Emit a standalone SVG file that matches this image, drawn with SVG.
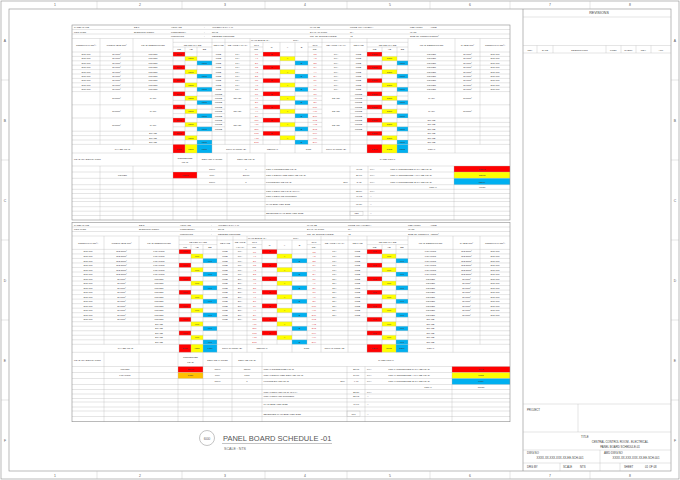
<svg xmlns="http://www.w3.org/2000/svg" width="680" height="480" viewBox="0 0 680 480">
<style>
text{font-family:"Liberation Sans",Arial,sans-serif;font-size:2.4px;fill:#3a3a3a}
.m{text-anchor:middle}
.e{text-anchor:end}
.k{fill:#e05050}
.g{stroke:#b4b4b4;stroke-width:0.35;fill:none}
.f{stroke:#8c8c8c;stroke-width:0.6;fill:none}
.R{fill:#ff0000}.Y{fill:#ffff00}.B{fill:#00b0f0}.O{fill:#ffc000}
.bd{font-size:3.4px;fill:#555}
</style>
<defs>
<g id="a"><text class="m" y="3.05"><tspan x="86">20φ mm</tspan><tspan x="116.5">3x4mm²</tspan><tspan x="153">POWER</tspan><tspan x="218.5">MCB</tspan><tspan x="237.5">16A</tspan><tspan x="336">16A</tspan><tspan x="358.5">MCB</tspan><tspan x="431.5">POWER</tspan><tspan x="467.5">3x4mm²</tspan><tspan x="495">20φ mm</tspan></text></g>
<g id="xR"><rect class="R" x="173" width="12" height="4.4"/><rect class="R" x="263" width="17" height="4.4"/><rect class="R" x="367" width="15" height="4.4"/><text class="m" y="3.05"><tspan x="179">1500</tspan><tspan x="271.5">R</tspan><tspan x="374.5">1500</tspan></text></g>
<g id="xY"><rect class="Y" x="185" width="12" height="4.4"/><rect class="Y" x="280" width="15" height="4.4"/><rect class="Y" x="382" width="15" height="4.4"/><text class="m" y="3.05"><tspan x="191">1500</tspan><tspan x="287.5">Y</tspan><tspan x="389.5">1500</tspan></text></g>
<g id="xB"><rect class="B" x="197" width="15" height="4.4"/><rect class="B" x="295" width="13" height="4.4"/><rect class="B" x="397" width="11" height="4.4"/><text class="m" y="3.05"><tspan x="204.5">1500</tspan><tspan x="301.5">B</tspan><tspan x="402.5">1500</tspan></text></g>
<g id="gL"><text class="m"><tspan x="116.5" y="7.7">5x6mm²</tspan><tspan x="153" y="7.7">RACK</tspan><tspan x="237.5" y="7.7">32A/3P</tspan><tspan x="218.5" y="3.05">MCCB</tspan><tspan x="218.5" y="7.45">MCCB</tspan><tspan x="218.5" y="11.85">MCCB</tspan></text></g>
<g id="gR"><text class="m"><tspan x="336" y="7.7">32A/3P</tspan><tspan x="358.5" y="3.05">MCCB</tspan><tspan x="358.5" y="7.45">MCCB</tspan><tspan x="358.5" y="11.85">MCCB</tspan><tspan x="431.5" y="7.7">RACK</tspan><tspan x="467.5" y="7.7">5x6mm²</tspan></text></g>
<g id="gS"><text class="m"><tspan x="336" y="7.7">32A/3P</tspan><tspan x="358.5" y="3.05">MCCB</tspan><tspan x="358.5" y="7.45">MCCB</tspan><tspan x="358.5" y="11.85">MCCB</tspan><tspan x="431.5" y="3.05">SPARE</tspan><tspan x="431.5" y="7.45">SPARE</tspan><tspan x="431.5" y="11.85">SPARE</tspan></text></g>
<g id="cd"><text class="m" y="3.1"><tspan x="88">20φ mm</tspan><tspan x="121.5">3x2.5mm²</tspan><tspan x="159">LIGHTING</tspan><tspan x="225">MCB</tspan><tspan x="240">10A</tspan><tspan x="334.5">10A</tspan><tspan x="357.5">MCB</tspan><tspan x="430.5">LIGHTING</tspan><tspan x="466.5">3x2.5mm²</tspan><tspan x="495">20φ mm</tspan></text></g>
<g id="p"><text class="m" y="3.1"><tspan x="88">20φ mm</tspan><tspan x="121.5">3x4mm²</tspan><tspan x="159">POWER</tspan><tspan x="225">MCB</tspan><tspan x="240">20A</tspan></text></g>
<g id="q"><text class="m" y="3.1"><tspan x="334.5">20A</tspan><tspan x="357.5">MCB</tspan><tspan x="430.5">POWER</tspan><tspan x="466.5">3x4mm²</tspan><tspan x="495">20φ mm</tspan></text></g>
<g id="yR"><rect class="R" x="179" width="12" height="4.52"/><rect class="R" x="262" width="15" height="4.52"/><rect class="R" x="367" width="15" height="4.52"/><text class="m" y="3.1"><tspan x="185">900</tspan><tspan x="269.5">R</tspan><tspan x="374.5">900</tspan></text></g>
<g id="yY"><rect class="Y" x="191" width="12" height="4.52"/><rect class="Y" x="277" width="15" height="4.52"/><rect class="Y" x="382" width="14" height="4.52"/><text class="m" y="3.1"><tspan x="197">900</tspan><tspan x="284.5">Y</tspan><tspan x="389">900</tspan></text></g>
<g id="yB"><rect class="B" x="203" width="14" height="4.52"/><rect class="B" x="292" width="15" height="4.52"/><rect class="B" x="396" width="12" height="4.52"/><text class="m" y="3.1"><tspan x="210">900</tspan><tspan x="299.5">B</tspan><tspan x="402">900</tspan></text></g>
</defs>
<rect width="680" height="480" fill="#fff"/>
<g id="border">
<rect class="f" x="1" y="1" width="678" height="478"/>
<rect class="f" x="9" y="9" width="662" height="462"/>
<path class="g" d="M97 1V9M182 1V9M265 1V9M347 1V9M430 1V9M510 1V9M590 1V9M97 471V479M182 471V479M265 471V479M347 471V479M430 471V479M510 471V479M590 471V479M1 80H9M1 160H9M1 240H9M1 320H9M1 400H9M671 80H679M671 160H679M671 240H679M671 320H679M671 400H679"/>
<text class="m bd"><tspan x="55" y="6.3">1</tspan><tspan x="140">2</tspan><tspan x="225">3</tspan><tspan x="305">4</tspan><tspan x="390">5</tspan><tspan x="470">6</tspan><tspan x="550">7</tspan><tspan x="630">8</tspan><tspan x="55" y="477">1</tspan><tspan x="140">2</tspan><tspan x="225">3</tspan><tspan x="305">4</tspan><tspan x="390">5</tspan><tspan x="470">6</tspan><tspan x="550">7</tspan><tspan x="630">8</tspan></text>
<text class="m bd"><tspan x="5" y="42">A</tspan><tspan x="5" y="122">B</tspan><tspan x="5" y="202">C</tspan><tspan x="5" y="282">D</tspan><tspan x="5" y="362">E</tspan><tspan x="5" y="442">F</tspan><tspan x="675" y="42">A</tspan><tspan x="675" y="122">B</tspan><tspan x="675" y="202">C</tspan><tspan x="675" y="282">D</tspan><tspan x="675" y="362">E</tspan><tspan x="675" y="442">F</tspan></text>
</g>
<g id="db1">
<use href="#a" y="52"/><use href="#xR" y="52"/>
<use href="#a" y="56.4"/><use href="#xY" y="56.4"/>
<use href="#a" y="60.8"/><use href="#xB" y="60.8"/>
<use href="#a" y="65.2"/><use href="#xR" y="65.2"/>
<use href="#a" y="69.6"/><use href="#xY" y="69.6"/>
<use href="#a" y="74"/><use href="#xB" y="74"/>
<use href="#a" y="78.4"/><use href="#xR" y="78.4"/>
<use href="#a" y="82.8"/><use href="#xY" y="82.8"/>
<use href="#a" y="87.2"/><use href="#xB" y="87.2"/>
<use href="#gL" y="91.6"/><use href="#gR" y="91.6"/><use href="#xR" y="91.6"/><use href="#xY" y="96"/><use href="#xB" y="100.4"/>
<use href="#gL" y="104.8"/><use href="#gR" y="104.8"/><use href="#xR" y="104.8"/><use href="#xY" y="109.2"/><use href="#xB" y="113.6"/>
<use href="#gL" y="118"/><use href="#gS" y="118"/><use href="#xR" y="118"/><use href="#xY" y="122.4"/><use href="#xB" y="126.8"/>
<use href="#xR" y="131.2"/><use href="#xY" y="135.6"/><use href="#xB" y="140"/>
<text class="m"><tspan x="153" y="134.25">SPARE</tspan><tspan x="153" y="138.65">SPARE</tspan><tspan x="153" y="143.05">SPARE</tspan><tspan x="431.5" y="134.25">SPARE</tspan><tspan x="431.5" y="138.65">SPARE</tspan><tspan x="431.5" y="143.05">SPARE</tspan></text>
<text class="m k" x="256.5" y="55.05">R1<tspan x="256.5" dy="4.4">Y1</tspan><tspan x="256.5" dy="4.4">B1</tspan><tspan x="256.5" dy="4.4">R3</tspan><tspan x="256.5" dy="4.4">Y3</tspan><tspan x="256.5" dy="4.4">B3</tspan><tspan x="256.5" dy="4.4">R5</tspan><tspan x="256.5" dy="4.4">Y5</tspan><tspan x="256.5" dy="4.4">B5</tspan><tspan x="256.5" dy="4.4">R7</tspan><tspan x="256.5" dy="4.4">Y7</tspan><tspan x="256.5" dy="4.4">B7</tspan><tspan x="256.5" dy="4.4">R9</tspan><tspan x="256.5" dy="4.4">Y9</tspan><tspan x="256.5" dy="4.4">B9</tspan><tspan x="256.5" dy="4.4">R11</tspan><tspan x="256.5" dy="4.4">Y11</tspan><tspan x="256.5" dy="4.4">B11</tspan><tspan x="256.5" dy="4.4">R13</tspan><tspan x="256.5" dy="4.4">Y13</tspan><tspan x="256.5" dy="4.4">B13</tspan></text>
<text class="m k" x="315" y="55.05">R2<tspan x="315" dy="4.4">Y2</tspan><tspan x="315" dy="4.4">B2</tspan><tspan x="315" dy="4.4">R4</tspan><tspan x="315" dy="4.4">Y4</tspan><tspan x="315" dy="4.4">B4</tspan><tspan x="315" dy="4.4">R6</tspan><tspan x="315" dy="4.4">Y6</tspan><tspan x="315" dy="4.4">B6</tspan><tspan x="315" dy="4.4">R8</tspan><tspan x="315" dy="4.4">Y8</tspan><tspan x="315" dy="4.4">B8</tspan><tspan x="315" dy="4.4">R10</tspan><tspan x="315" dy="4.4">Y10</tspan><tspan x="315" dy="4.4">B10</tspan><tspan x="315" dy="4.4">R12</tspan><tspan x="315" dy="4.4">Y12</tspan><tspan x="315" dy="4.4">B12</tspan><tspan x="315" dy="4.4">R14</tspan><tspan x="315" dy="4.4">Y14</tspan><tspan x="315" dy="4.4">B14</tspan></text>
<rect class="R" x="173" y="144.4" width="12" height="8.6"/><rect class="Y" x="185" y="144.4" width="12" height="8.6"/><rect class="B" x="197" y="144.4" width="15" height="8.6"/>
<rect class="R" x="367" y="144.4" width="15" height="8.6"/><rect class="Y" x="382" y="144.4" width="15" height="8.6"/><rect class="B" x="397" y="144.4" width="11" height="8.6"/>
<rect class="R" x="173" y="172" width="24" height="6.3"/>
<rect class="R" x="454" y="166" width="56" height="6"/><rect class="Y" x="454" y="172" width="56" height="6.3"/><rect class="B" x="454" y="178.3" width="56" height="6.4"/>
<path class="g" d="M72 29.5H510M72 34H510M72 38.5H510M72 52H510M72 56.4H510M72 60.8H510M72 65.2H510M72 69.6H510M72 74H510M72 78.4H510M72 82.8H510M72 87.2H510M72 91.6H510M72 104.8H510M72 118H510M72 131.2H510M72 135.6H510M72 140H510M72 144.4H510M72 153H510M173 42.3H408M173 47H212M250 47H263M308 47H322M367 47H408M173 96H225M250 96H322M350 96H408M173 100.4H225M250 100.4H322M350 100.4H408M173 109.2H225M250 109.2H322M350 109.2H408M173 113.6H225M250 113.6H322M350 113.6H408M173 122.4H225M250 122.4H322M350 122.4H510M173 126.8H225M250 126.8H322M350 126.8H510
M100 38.5V144.4M133 38.5V144.4M173 38.5V153M212 38.5V153M225 38.5V144.4M250 38.5V153M263 42.3V144.4M308 42.3V144.4M322 38.5V153M350 38.5V153M367 38.5V153M408 38.5V153M455 38.5V153M480 38.5V144.4M185 47V153M197 47V153M382 47V153M397 47V153M280 42.3V144.4M295 42.3V153
M72 166H510M72 172H510M72 178.3H510M72 184.7H510M72 189.3H510M72 193.5H510M72 198.3H510M72 201.5H510M72 206.7H510M72 211.2H510M72 215.5H510M100 166V220M133 166V220M173 153V220M197 153V220M227 153V220M265 153V220M350 166V220M368 166V220M454 166V220"/>
<rect class="g" x="350" y="211.2" width="13" height="4.3"/>
<rect class="f" x="72" y="25" width="438" height="195"/>
<text><tspan x="74" y="28.3">PANEL NAME</tspan><tspan x="134">DB-1</tspan><tspan x="171">VOLTAGE</tspan><tspan x="204">:</tspan><tspan x="212">400/230V,3 PH,4 W</tspan><tspan x="310">MAIN CB</tspan><tspan x="350">MCCB 400A/4P/25KA</tspan><tspan x="410">FED FROM</tspan><tspan x="430">: MDB</tspan><tspan x="74" y="32.8">LOCATION</tspan><tspan x="134">ELECTRIC ROOM</tspan><tspan x="171">FREQUENCY</tspan><tspan x="204">:</tspan><tspan x="212">50HZ</tspan><tspan x="310">E.L.C.I RATING:</tspan><tspan x="350">NA</tspan><tspan x="410">IP: 55</tspan><tspan x="171" y="37.3">MOUNTING</tspan><tspan x="204">:</tspan><tspan x="212">RECESS MOUNTED</tspan><tspan x="310">NO. OF SINGLE POLES:</tspan><tspan x="350">42</tspan><tspan x="410">SIZE OF CONDUIT</tspan><tspan x="430">: 25mm²</tspan><tspan x="251" y="41.25">MAIN BUS BAR :</tspan><tspan x="293">100A</tspan></text>
<text class="m"><tspan x="86" y="46.1">CONDUIT(In mm²)</tspan><tspan x="116.5">WIRE/CABLE mm²</tspan><tspan x="153">LOAD DESCRIPTION</tspan><tspan x="218.5">CB TYPE</tspan><tspan x="237.5">CB AMPS (AT/AF)</tspan><tspan x="336">CB AMPS (AT/AF)</tspan><tspan x="358.5">CB TYPE</tspan><tspan x="431.5">LOAD DESCRIPTION</tspan><tspan x="467.5">CABLE mm²</tspan><tspan x="495">CONDUIT(In mm²)</tspan><tspan x="192.5" y="45.5">1Ø PER PHASE</tspan><tspan x="256.5">CKT</tspan><tspan x="315">CKT</tspan><tspan x="387.5">1Ø PER PHASE</tspan><tspan x="179" y="50.35">RØ</tspan><tspan x="191">YØ</tspan><tspan x="204.5">BØ</tspan><tspan x="256.5">NO.</tspan><tspan x="315">NO.</tspan><tspan x="374.5">RØ</tspan><tspan x="389.5">YØ</tspan><tspan x="402.5">BØ</tspan><tspan x="271.5" y="48">R</tspan><tspan x="287.5">Y</tspan><tspan x="301.5">B</tspan></text>
<text class="m"><tspan x="122.5" y="149.6">PHASE LOAD</tspan><tspan x="179">8300</tspan><tspan x="191">8300</tspan><tspan x="204.5">8300</tspan><tspan x="236">100% of Phase (B)</tspan><tspan x="272.5">NEUTRAL</tspan><tspan x="308.5">GND</tspan><tspan x="336">100% of Phase (B)</tspan><tspan x="374.5">5283</tspan><tspan x="389.5">5283</tspan><tspan x="402.5">5283</tspan><tspan x="431.5">TOTAL</tspan></text>
<text x="74" y="160.3">LOAD CLASSIFICATION</text>
<text class="m"><tspan x="185" y="158.5">CONNECTED</tspan><tspan x="185" y="162.6">LOAD</tspan><tspan x="212" y="160.3">DEMAND FACTOR</tspan><tspan x="246">DEMAND LOAD</tspan><tspan x="387.5">PANEL TOTAL</tspan><tspan x="212" y="169.9">100%</tspan><tspan x="246">0</tspan><tspan x="122.5" y="176.1">POWER</tspan><tspan x="185">40750</tspan><tspan x="212">80%</tspan><tspan x="246">27160</tspan><tspan x="212" y="182.5">100%</tspan><tspan x="246">0</tspan><tspan x="359" y="169.9">40.75</tspan><tspan x="359" y="176.1">27.16</tspan><tspan x="359" y="182.5">5.43</tspan><tspan x="359" y="192.4">32.59</tspan><tspan x="359" y="197">49.03</tspan><tspan x="359" y="205.2">61.29</tspan><tspan x="356.5" y="214.2">125</tspan><tspan x="411" y="169.9">TOTAL CONNECTED R PHASE LOAD</tspan><tspan x="411" y="176.1">TOTAL CONNECTED Y PHASE LOAD</tspan><tspan x="411" y="182.5">TOTAL CONNECTED B PHASE LOAD</tspan><tspan x="433" y="187.9">TOTAL</tspan><tspan x="482" y="169.9">13583</tspan><tspan x="482" y="176.1">13583</tspan><tspan x="482" y="182.5">13584</tspan><tspan x="482" y="187.9">40750</tspan></text>
<text><tspan x="266" y="169.9">TOTAL CONNECTED LOAD</tspan><tspan x="370">KVA</tspan><tspan x="266" y="176.1">TOTAL ESTIMATED DEMAND LOAD</tspan><tspan x="370">KVA</tspan><tspan x="266" y="182.5">FUTURE/SPARE LOAD</tspan><tspan x="370">KVA</tspan><tspan x="266" y="192.4">TOTAL DEMAND LOAD IN KVA</tspan><tspan x="370">KVA</tspan><tspan x="266" y="197">TOTAL DEMAND CURRENT</tspan><tspan x="370">A</tspan><tspan x="266" y="205.2">MAIN BREAKER SIZE</tspan><tspan x="370">A</tspan><tspan x="266" y="214.2">SELECTED MAIN BREAKER SIZE</tspan><tspan x="370">A</tspan></text>
<text class="e" x="348" y="182.5">20%</text>
</g>
<g id="db2">
<use href="#cd" y="249.4"/><use href="#yR" y="249.4"/>
<use href="#cd" y="253.92"/><use href="#yY" y="253.92"/>
<use href="#cd" y="258.44"/><use href="#yB" y="258.44"/>
<use href="#cd" y="262.96"/><use href="#yR" y="262.96"/>
<use href="#cd" y="267.48"/><use href="#yY" y="267.48"/>
<use href="#cd" y="272"/><use href="#yB" y="272"/>
<use href="#p" y="276.52"/><use href="#q" y="276.52"/><use href="#yR" y="276.52"/>
<use href="#p" y="281.04"/><use href="#q" y="281.04"/><use href="#yY" y="281.04"/>
<use href="#p" y="285.56"/><use href="#q" y="285.56"/><use href="#yB" y="285.56"/>
<use href="#p" y="290.08"/><use href="#q" y="290.08"/><use href="#yR" y="290.08"/>
<use href="#p" y="294.6"/><use href="#q" y="294.6"/><use href="#yY" y="294.6"/>
<use href="#p" y="299.12"/><use href="#q" y="299.12"/><use href="#yB" y="299.12"/>
<use href="#p" y="303.64"/><use href="#q" y="303.64"/><use href="#yR" y="303.64"/>
<use href="#p" y="308.16"/><use href="#q" y="308.16"/><use href="#yY" y="308.16"/>
<use href="#p" y="312.68"/><use href="#q" y="312.68"/><use href="#yB" y="312.68"/>
<use href="#p" y="317.2"/><use href="#yR" y="317.2"/>
<use href="#yY" y="321.72"/><use href="#yB" y="326.24"/><use href="#yR" y="330.76"/><use href="#yY" y="335.28"/><use href="#yB" y="339.8"/>
<text class="m"><tspan x="159" y="324.82">SPARE</tspan><tspan x="159" y="329.34">SPARE</tspan><tspan x="159" y="333.86">SPARE</tspan><tspan x="159" y="338.38">SPARE</tspan><tspan x="159" y="342.9">SPARE</tspan><tspan x="430.5" y="320.3">SPARE</tspan><tspan x="430.5" y="324.82">SPARE</tspan><tspan x="430.5" y="329.34">SPARE</tspan><tspan x="430.5" y="333.86">SPARE</tspan><tspan x="430.5" y="338.38">SPARE</tspan><tspan x="430.5" y="342.9">SPARE</tspan></text>
<text class="m k" x="254.5" y="252.5">R1<tspan x="254.5" dy="4.52">Y1</tspan><tspan x="254.5" dy="4.52">B1</tspan><tspan x="254.5" dy="4.52">R3</tspan><tspan x="254.5" dy="4.52">Y3</tspan><tspan x="254.5" dy="4.52">B3</tspan><tspan x="254.5" dy="4.52">R5</tspan><tspan x="254.5" dy="4.52">Y5</tspan><tspan x="254.5" dy="4.52">B5</tspan><tspan x="254.5" dy="4.52">R7</tspan><tspan x="254.5" dy="4.52">Y7</tspan><tspan x="254.5" dy="4.52">B7</tspan><tspan x="254.5" dy="4.52">R9</tspan><tspan x="254.5" dy="4.52">Y9</tspan><tspan x="254.5" dy="4.52">B9</tspan><tspan x="254.5" dy="4.52">R11</tspan><tspan x="254.5" dy="4.52">Y11</tspan><tspan x="254.5" dy="4.52">B11</tspan><tspan x="254.5" dy="4.52">R13</tspan><tspan x="254.5" dy="4.52">Y13</tspan><tspan x="254.5" dy="4.52">B13</tspan></text>
<text class="m k" x="314" y="252.5">R2<tspan x="314" dy="4.52">Y2</tspan><tspan x="314" dy="4.52">B2</tspan><tspan x="314" dy="4.52">R4</tspan><tspan x="314" dy="4.52">Y4</tspan><tspan x="314" dy="4.52">B4</tspan><tspan x="314" dy="4.52">R6</tspan><tspan x="314" dy="4.52">Y6</tspan><tspan x="314" dy="4.52">B6</tspan><tspan x="314" dy="4.52">R8</tspan><tspan x="314" dy="4.52">Y8</tspan><tspan x="314" dy="4.52">B8</tspan><tspan x="314" dy="4.52">R10</tspan><tspan x="314" dy="4.52">Y10</tspan><tspan x="314" dy="4.52">B10</tspan><tspan x="314" dy="4.52">R12</tspan><tspan x="314" dy="4.52">Y12</tspan><tspan x="314" dy="4.52">B12</tspan><tspan x="314" dy="4.52">R14</tspan><tspan x="314" dy="4.52">Y14</tspan><tspan x="314" dy="4.52">B14</tspan></text>
<rect class="R" x="179" y="344.32" width="12" height="7.98"/><rect class="Y" x="191" y="344.32" width="12" height="7.98"/><rect class="B" x="203" y="344.32" width="14" height="7.98"/>
<rect class="R" x="367" y="344.32" width="15" height="7.98"/><rect class="Y" x="382" y="344.32" width="14" height="7.98"/><rect class="B" x="396" y="344.32" width="12" height="7.98"/>
<rect class="R" x="178" y="366.5" width="25" height="6"/><rect class="O" x="178" y="372.5" width="25" height="6"/>
<rect class="R" x="452" y="366.5" width="58" height="6"/><rect class="Y" x="452" y="372.5" width="58" height="6"/><rect class="B" x="452" y="378.5" width="58" height="6"/>
<path class="g" d="M72 227H510M72 231.5H510M72 236H510M72 249.4H510M72 253.92H510M72 258.44H510M72 262.96H510M72 267.48H510M72 272H510M72 276.52H510M72 281.04H510M72 285.56H510M72 290.08H510M72 294.6H510M72 299.12H510M72 303.64H510M72 308.16H510M72 312.68H510M72 317.2H510M72 321.72H510M72 326.24H510M72 330.76H510M72 335.28H510M72 339.8H510M72 344.32H510M72 352.3H510M179 240H408M179 244.6H217M247 244.6H262M307 244.6H321M367 244.6H408
M104 236V344.32M139 236V344.32M179 236V352.3M217 236V352.3M233 236V344.32M247 236V352.3M262 240V344.32M307 240V344.32M321 236V352.3M348 236V352.3M367 236V352.3M408 236V352.3M453 236V352.3M480 236V344.32M191 244.6V352.3M203 244.6V352.3M382 244.6V352.3M396 244.6V352.3M277 240V344.32M292 240V352.3
M72 366.5H510M72 372.5H510M72 378.5H510M72 384.5H510M72 389.5H510M72 394H510M72 398.5H510M72 402H510M72 407H510M72 411H510M72 416.5H510M104 352.3V421.7M139 352.3V421.7M178 352.3V421.7M203 352.3V421.7M232 352.3V421.7M262 352.3V421.7M347 366.5V421.7M365 366.5V421.7M452 366.5V421.7"/>
<rect class="g" x="347" y="411" width="13" height="5.5"/>
<rect class="f" x="72" y="222.5" width="438" height="199.2"/>
<text><tspan x="74" y="225.6">PANEL NAME</tspan><tspan x="139">DB-2</tspan><tspan x="180">VOLTAGE</tspan><tspan x="211">:</tspan><tspan x="218">400/230V,3 PH,4 W</tspan><tspan x="307">MAIN CB</tspan><tspan x="348">MCCB 400A/4P/25KA</tspan><tspan x="408">FED FROM</tspan><tspan x="430">: MDB</tspan><tspan x="74" y="230.1">LOCATION</tspan><tspan x="139">ELECTRIC ROOM</tspan><tspan x="180">FREQUENCY</tspan><tspan x="211">:</tspan><tspan x="218">50HZ</tspan><tspan x="307">E.L.C.I RATING:</tspan><tspan x="348">NA</tspan><tspan x="408">IP: 55</tspan><tspan x="180" y="234.6">MOUNTING</tspan><tspan x="211">:</tspan><tspan x="218">RECESS MOUNTED</tspan><tspan x="307">NO. OF SINGLE POLES:</tspan><tspan x="348">42</tspan><tspan x="408">SIZE OF CONDUIT</tspan><tspan x="430">: 25mm²</tspan><tspan x="248" y="238.85">MAIN BUS BAR :</tspan><tspan x="293">100A</tspan></text>
<text class="m"><tspan x="88" y="243.55">CONDUIT(In mm²)</tspan><tspan x="121.5">WIRE/CABLE mm²</tspan><tspan x="159">LOAD DESCRIPTION</tspan><tspan x="225">CB TYPE</tspan><tspan x="334.5">CB AMPS (AT/AF)</tspan><tspan x="357.5">CB TYPE</tspan><tspan x="430.5">LOAD DESCRIPTION</tspan><tspan x="466.5">CABLE mm²</tspan><tspan x="495">CONDUIT(In mm²)</tspan><tspan x="198" y="243.15">1Ø PER PHASE</tspan><tspan x="240">CB AMPS</tspan><tspan x="254.5">CKT</tspan><tspan x="314">CKT</tspan><tspan x="387.5">1Ø PER PHASE</tspan><tspan x="185" y="247.85">RØ</tspan><tspan x="197">YØ</tspan><tspan x="210">BØ</tspan><tspan x="240">(AT/AF)</tspan><tspan x="254.5">NO.</tspan><tspan x="314">NO.</tspan><tspan x="374.5">RØ</tspan><tspan x="389">YØ</tspan><tspan x="402">BØ</tspan><tspan x="269.5" y="245.55">R</tspan><tspan x="284.5">Y</tspan><tspan x="299.5">B</tspan></text>
<text class="m"><tspan x="125.5" y="349.15">PHASE LOAD</tspan><tspan x="185">5750</tspan><tspan x="197">4550</tspan><tspan x="210">4750</tspan><tspan x="232">100% of Phase (B)</tspan><tspan x="262">NEUTRAL</tspan><tspan x="306.5">GND</tspan><tspan x="334.5">100% of Phase (B)</tspan><tspan x="374.5">2293</tspan><tspan x="389">3603</tspan><tspan x="402">3300</tspan><tspan x="430.5">TOTAL</tspan></text>
<text x="74" y="360.6">LOAD CLASSIFICATION</text>
<text class="m"><tspan x="190.5" y="358.3">CONNECTED</tspan><tspan x="190.5" y="362.5">LOAD</tspan><tspan x="217.5" y="360.6">DEMAND FACTOR</tspan><tspan x="247">DEMAND LOAD</tspan><tspan x="386">PANEL TOTAL</tspan><tspan x="125" y="370.4">POWER</tspan><tspan x="190.5">15000</tspan><tspan x="217.5">100%</tspan><tspan x="247">15000</tspan><tspan x="125" y="376.4">LIGHTING</tspan><tspan x="190.5">8750</tspan><tspan x="217.5">80%</tspan><tspan x="247">7000</tspan><tspan x="217.5" y="382.4">100%</tspan><tspan x="247">0</tspan><tspan x="356" y="370.4">23.75</tspan><tspan x="356" y="376.4">17.80</tspan><tspan x="356" y="382.4">4.40</tspan><tspan x="356" y="392.6">22.20</tspan><tspan x="356" y="397.2">32.13</tspan><tspan x="356" y="405.4">40.17</tspan><tspan x="353.5" y="414.6">100</tspan><tspan x="409" y="370.4">TOTAL CONNECTED R PHASE LOAD</tspan><tspan x="409" y="376.4">TOTAL CONNECTED Y PHASE LOAD</tspan><tspan x="409" y="382.4">TOTAL CONNECTED B PHASE LOAD</tspan><tspan x="428" y="387.9">TOTAL</tspan><tspan x="481" y="370.4">8043</tspan><tspan x="481" y="376.4">8153</tspan><tspan x="481" y="382.4">8050</tspan><tspan x="481" y="387.9">18758</tspan></text>
<text><tspan x="263.5" y="370.4">TOTAL CONNECTED LOAD</tspan><tspan x="367">KVA</tspan><tspan x="263.5" y="376.4">TOTAL ESTIMATED DEMAND LOAD</tspan><tspan x="367">KVA</tspan><tspan x="263.5" y="382.4">FUTURE/SPARE LOAD</tspan><tspan x="367">KVA</tspan><tspan x="263.5" y="392.6">TOTAL DEMAND LOAD IN KVA</tspan><tspan x="367">KVA</tspan><tspan x="263.5" y="397.2">TOTAL DEMAND CURRENT</tspan><tspan x="367">A</tspan><tspan x="263.5" y="405.4">MAIN BREAKER SIZE</tspan><tspan x="367">A</tspan><tspan x="263.5" y="414.6">SELECTED MAIN BREAKER SIZE</tspan><tspan x="367">A</tspan></text>
<text class="e" x="345" y="382.4">20%</text>
</g>
<g id="title">
<circle cx="207" cy="438" r="7.5" fill="none" stroke="#888" stroke-width="0.5"/>
<text class="m" x="207" y="439.5" style="font-size:4px;fill:#666">600</text>
<text x="223" y="441" style="font-size:7.5px;fill:#555">PANEL BOARD SCHEDULE -01</text>
<path d="M222 443.5H332" stroke="#888" stroke-width="0.5"/>
<text x="224" y="449.5" style="font-size:3.6px;fill:#666">SCALE : NTS</text>
</g>
<g id="titleblock">
<path class="f" d="M523 9V471"/>
<path class="g" d="M523 17H671M523 45.5H671M523 53H671M537 45.5V53M553 45.5V53M606 45.5V53M621 45.5V53M636 45.5V53M651 45.5V53M523 404H671M578 404V432M523 432H671M523 450H671M523 463H671M600 450V471M560 463V471M620 463V471"/>
<text class="m" x="599" y="13.5" style="font-size:3.6px">REVISIONS</text>
<text class="m" y="50.5"><tspan x="530">REV</tspan><tspan x="545">DATE</tspan><tspan x="579.5">DESCRIPTION</tspan><tspan x="613.5">PREP.</tspan><tspan x="628.5">CHECK</tspan><tspan x="643.5">REV.</tspan><tspan x="661">APP.</tspan></text>
<text style="font-size:2.8px"><tspan x="527" y="410.5">PROJECT</tspan><tspan x="581" y="437.5">TITLE</tspan><tspan x="527" y="454">DWG NO</tspan><tspan x="604" y="454">AMD DWG NO</tspan><tspan x="527" y="467.5">DRG BY</tspan><tspan x="563" y="467.5">SCALE</tspan><tspan x="580">NTS</tspan><tspan x="624" y="467.5">SHEET</tspan><tspan x="645">01 OF 08</tspan></text>
<text class="m" style="font-size:2.8px"><tspan x="620" y="443">CENTRAL CONTROL ROOM - ELECTRICAL</tspan><tspan x="620" y="447.5">PANEL BOARD SCHEDULE-01</tspan><tspan x="560" y="459">XXXX-XX-XXX-XXX-XX-EE-SCH-001</tspan><tspan x="636" y="459">XXXX-XX-XXX-XXX-XX-EE-SCH-001</tspan></text>
</g>
</svg>
